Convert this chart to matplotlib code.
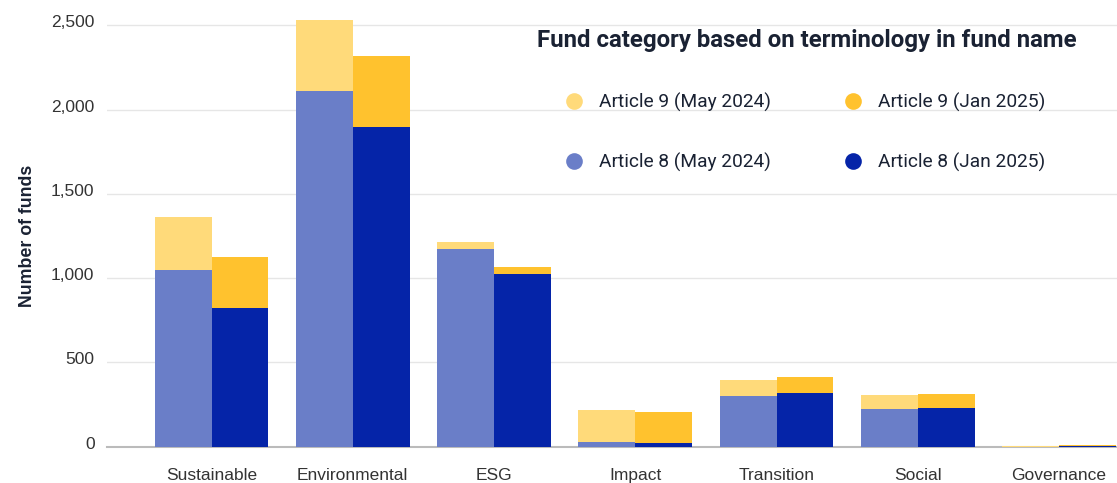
import matplotlib
matplotlib.use("Agg")
import matplotlib.pyplot as plt
from matplotlib.lines import Line2D
from matplotlib.transforms import ScaledTranslation
import numpy as np

categories = ["Sustainable", "Environmental", "ESG", "Impact", "Transition", "Social", "Governance"]
a8_may2024 = [1048, 2109, 1174, 30, 300, 225, 1]
a9_may2024 = [312, 421, 42, 188, 95, 83, 6]
a8_jan2025 = [824, 1896, 1022, 24, 317, 229, 3]
a9_jan2025 = [301, 421, 44, 184, 96, 81, 6]
yticks = [0, 500, 1000, 1500, 2000, 2500]
ytick_labels = ["0", "500", "1,000", "1,500", "2,000", "2,500"]

c_a9_may = "#FFDA7A"
c_a9_jan = "#FFC22E"
c_a8_may = "#6A7EC8"
c_a8_jan = "#0524A8"

W, H = 1117, 483
fig = plt.figure(figsize=(W / 100, H / 100), dpi=100)
ax = fig.add_axes([107 / W, 1 - 446.7 / H, 1 - 107 / W, 446.7 / H])

x = np.arange(len(categories))
bw = 0.403
ax.bar(x - bw / 2, a8_may2024, bw, color=c_a8_may, zorder=4)
ax.bar(x - bw / 2, a9_may2024, bw, bottom=a8_may2024, color=c_a9_may, zorder=4)
ax.bar(x + bw / 2, a8_jan2025, bw, color=c_a8_jan, zorder=4)
ax.bar(x + bw / 2, a9_jan2025, bw, bottom=a8_jan2025, color=c_a9_jan, zorder=4)

ax.set_xlim(-0.74, 6.41)
ax.set_ylim(0, 2650)
ax.set_yticks(yticks)
ax.set_yticklabels(ytick_labels, fontfamily="Liberation Sans", fontsize=12.5, color="#333333")
ax.set_xticks(x)
ax.set_xticklabels(categories, fontfamily="Liberation Sans", fontsize=12.5, color="#333333")
ax.tick_params(axis="both", length=0)
ax.tick_params(axis="y", pad=9)
ax.tick_params(axis="x", pad=15)
for lab in ax.get_yticklabels():
    lab.set_transform(lab.get_transform() + ScaledTranslation(0, 4 / 100, fig.dpi_scale_trans))
ax.grid(axis="y", color="#e6e6e6", linewidth=1, zorder=0)
for s in ["top", "right", "left"]:
    ax.spines[s].set_visible(False)
ax.spines["bottom"].set_color("#bbbbbb")
ax.spines["bottom"].set_linewidth(1.5)
ax.spines["bottom"].set_zorder(3)

fig.text(28 / W, 1 - 236 / H, "Number of funds", rotation=90, ha="center", va="center",
         fontfamily="Liberation Sans", fontweight="bold", fontsize=12.8, color="#1a2233")

fig.text(537 / W, 1 - 41 / H, "Fund category based on terminology in fund name",
         ha="left", va="center", fontfamily="Roboto", fontweight="bold", fontsize=17.3, color="#1a2233")

def h(c, lab):
    return Line2D([], [], marker="o", linestyle="none", markersize=12, markerfacecolor=c,
                  markeredgecolor="none", label=lab)

handles = [h(c_a9_may, "Article 9 (May 2024)"), h(c_a8_may, "Article 8 (May 2024)"),
           h(c_a9_jan, "Article 9 (Jan 2025)"), h(c_a8_jan, "Article 8 (Jan 2025)")]
leg = fig.legend(handles=handles, ncol=2, loc="upper left", bbox_to_anchor=(565 / W, 1 - 93 / H),
                 frameon=False, prop={"family": "Roboto", "size": 13.8},
                 handlelength=0.9, handletextpad=0.85, columnspacing=3.85, labelspacing=2.1,
                 borderpad=0, borderaxespad=0)
for t in leg.get_texts():
    t.set_color("#1a2233")

fig.savefig("out.png", dpi=100)
